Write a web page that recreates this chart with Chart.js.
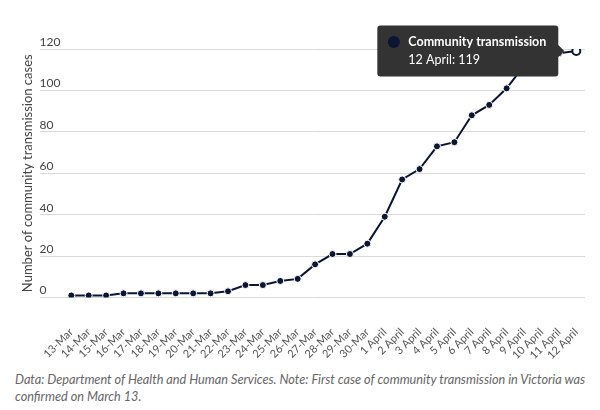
<!DOCTYPE html>
<html>
<head>
<meta charset="utf-8">
<script src="https://cdn.jsdelivr.net/npm/chart.js@4/dist/chart.umd.min.js"></script>
<style>
  html, body { margin: 0; padding: 0; background: #fff; }
  #wrap { position: absolute; left: 0; top: 0; width: 600px; height: 362px; }
  #cap { position: absolute; left: 15px; top: 371px; width: 585px; font-family: Lato, sans-serif; font-style: italic;
         font-size: 12.7px; line-height: 17px; color: #666; }
</style>
</head>
<body>
<div id="wrap"><canvas id="c"></canvas></div>
<div id="cap">Data: Department of Health and Human Services. Note: First case of community transmission in Victoria was confirmed on March 13.</div>
<script>
const categories = ['13-Mar','14-Mar','15-Mar','16-Mar','17-Mar','18-Mar','19-Mar','20-Mar','21-Mar',
  '22-Mar','23-Mar','24-Mar','25-Mar','26-Mar','27-Mar','28-Mar','29-Mar','30-Mar',
  '1 April','2 April','3 April','4 April','5 April','6 April','7 April','8 April','9 April',
  '10 April','11 April','12 April'];
const seriesName = 'Community transmission';
const cases = [1,1,1,2,2,2,2,2,2,3,6,6,8,9,16,21,21,26,39,57,62,73,75,88,93,101,112,116,118,119];
const yTicks = [0,20,40,60,80,100,120];
const yTitle = 'Number of community transmission cases';

const NAVY = '#0c1632';

const dotPlugin = {
  id: 'tooltipDot',
  afterTooltipDraw(chart, args) {
    const tt = args.tooltip;
    if (!tt.opacity) return;
    const ctx = chart.ctx;
    ctx.save();
    ctx.fillStyle = NAVY;
    ctx.beginPath();
    ctx.arc(tt.x + 16.5, tt.y + 9 + 7.5, 6, 0, Math.PI * 2);
    ctx.fill();
    ctx.restore();
  }
};

const chart = new Chart(document.getElementById('c'), {
  type: 'line',
  data: {
    datasets: [{
      label: seriesName,
      data: cases.map((v, i) => ({ x: i, y: v })),
      borderColor: NAVY,
      borderWidth: 2,
      tension: 0,
      pointRadius: 3.5,
      pointBackgroundColor: NAVY,
      pointBorderColor: '#fff',
      pointBorderWidth: 1,
      pointHoverRadius: 4,
      pointHoverBorderWidth: 2,
      pointHoverBackgroundColor: '#fff',
      pointHoverBorderColor: NAVY
    }]
  },
  options: {
    responsive: true,
    maintainAspectRatio: false,
    animation: false,
    events: [],
    layout: { padding: { left: 17, right: 15, top: 49, bottom: 0 } },
    plugins: {
      legend: { display: false },
      tooltip: {
        enabled: true,
        backgroundColor: '#333333',
        titleColor: '#fff',
        bodyColor: '#fff',
        titleFont: { family: 'Lato', size: 12.5, weight: 'bold' },
        bodyFont: { family: 'Lato', size: 12.5 },
        padding: { top: 9, bottom: 9, left: 31, right: 12 },
        titleMarginBottom: 3,
        displayColors: false,
        caretSize: 6,
        caretPadding: 12,
        cornerRadius: 3,
        callbacks: {
          title: () => seriesName,
          label: (ctx) => categories[ctx.dataIndex] + ': ' + ctx.parsed.y
        }
      }
    },
    scales: {
      x: {
        type: 'linear',
        min: -1.82,
        max: 29.5,
        bounds: 'data',
        grid: { display: true, drawOnChartArea: false, drawTicks: true, tickLength: 28, color: 'rgba(0,0,0,0)' },
        border: { display: false },
        afterBuildTicks: (scale) => { scale.ticks = categories.map((_, i) => ({ value: i })); },
        ticks: {
          autoSkip: false,
          minRotation: 45,
          maxRotation: 45,
          padding: 0,
          color: '#555',
          font: { family: 'Lato', size: 11 },
          callback: (v) => categories[v] ?? ''
        }
      },
      y: {
        min: 0,
        max: 120,
        afterBuildTicks: (scale) => { scale.ticks = yTicks.map(v => ({ value: v })); },
        grid: { color: '#d9d9d9', lineWidth: 1, drawTicks: false },
        border: { display: false },
        ticks: {
          mirror: true,
          padding: 0,
          labelOffset: -7,
          color: '#444',
          font: { family: 'Lato', size: 12 }
        },
        title: {
          display: true,
          text: yTitle,
          color: '#444',
          font: { family: 'Lato', size: 13 },
          padding: { top: 3, bottom: 4 }
        }
      }
    }
  },
  plugins: [dotPlugin]
});

const active = [{ datasetIndex: 0, index: categories.length - 1 }];
chart.setActiveElements(active);
chart.tooltip.setActiveElements(active, { x: 0, y: 0 });
chart.update();
</script>
</body>
</html>
